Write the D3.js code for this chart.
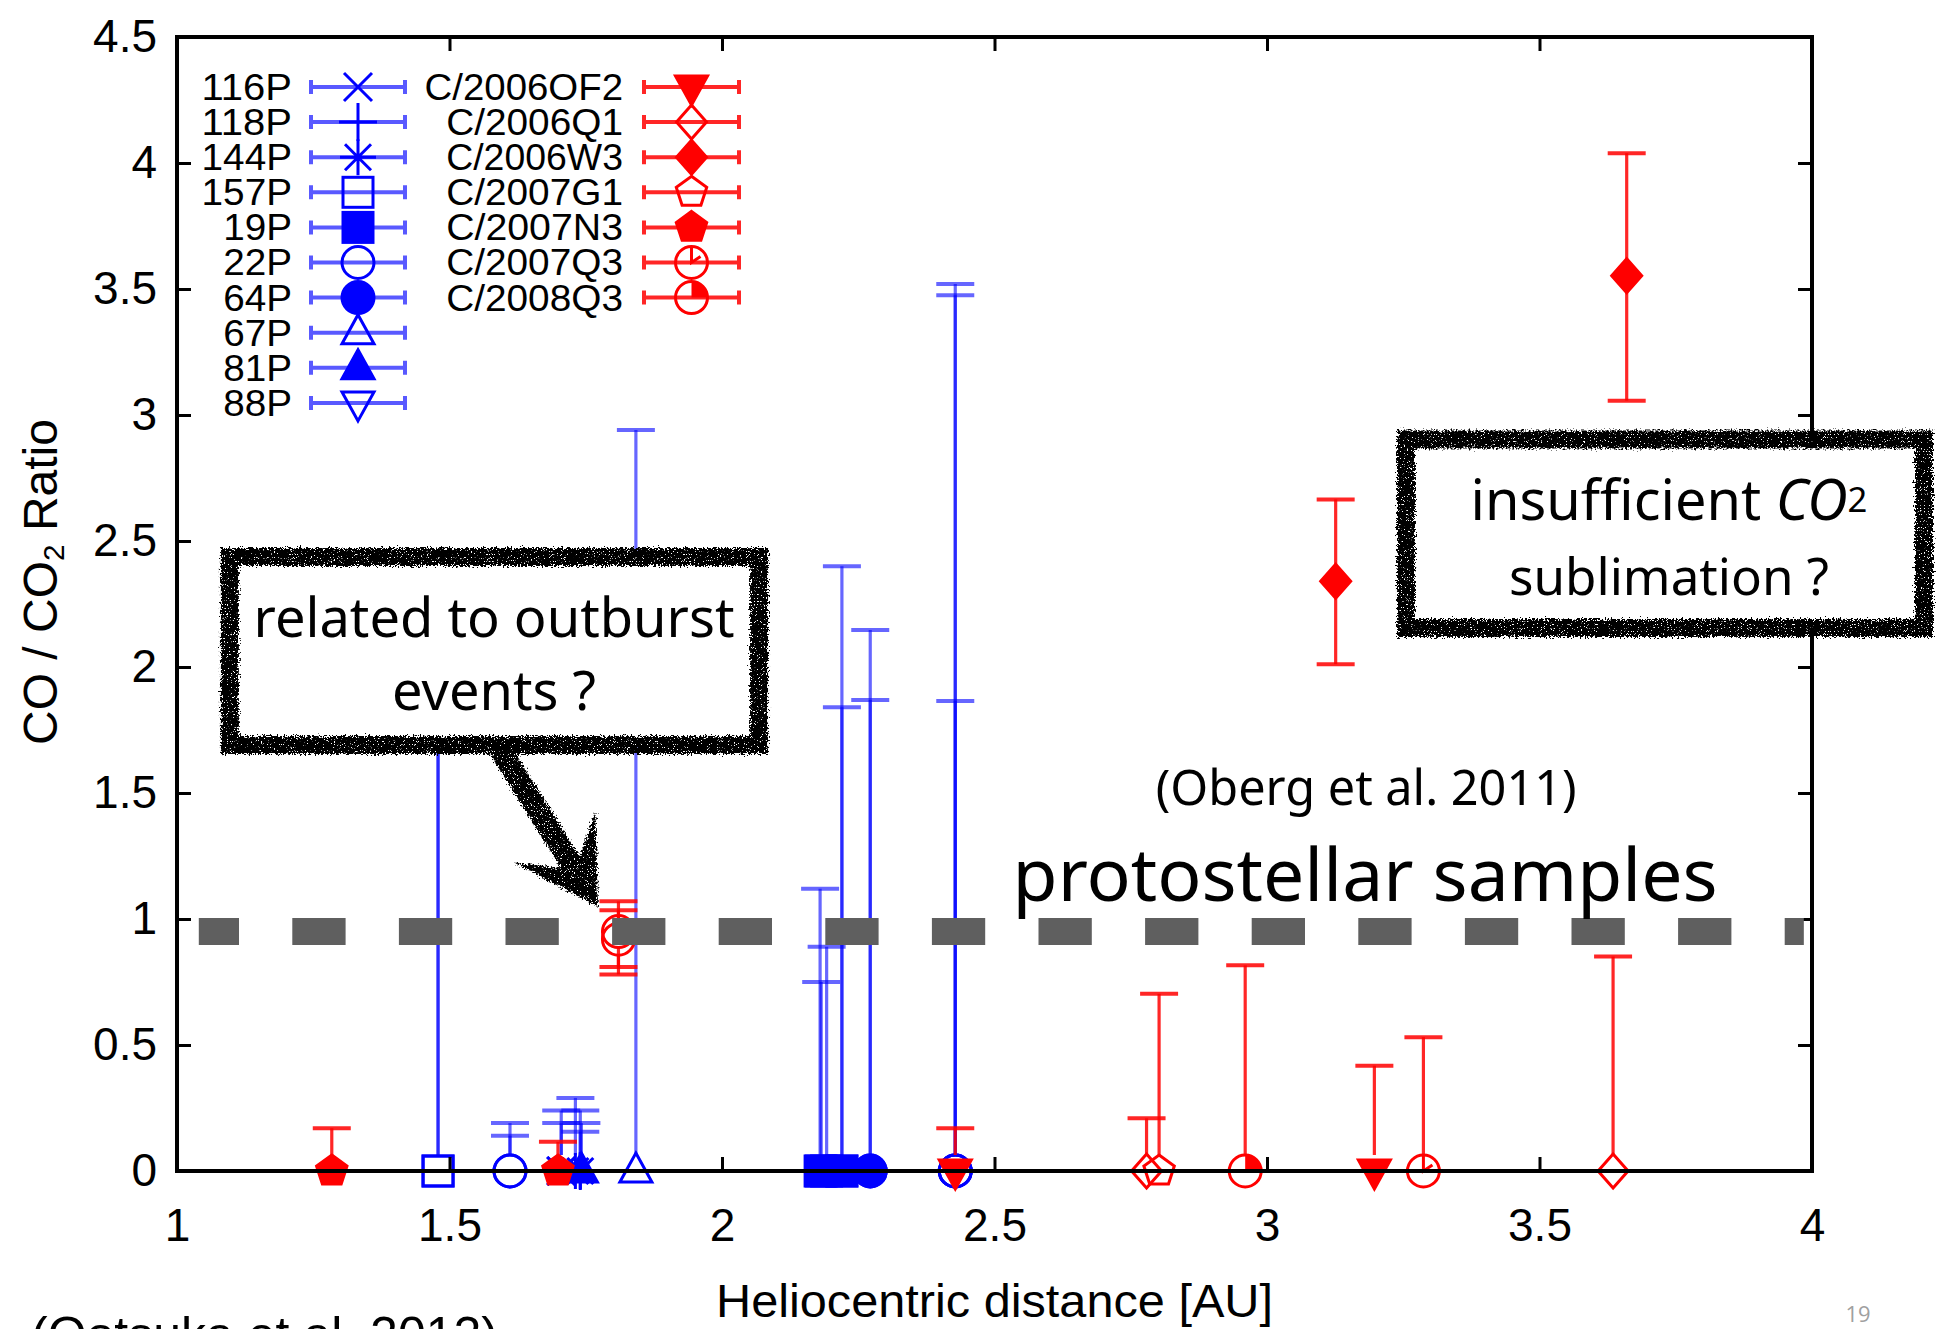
<!DOCTYPE html>
<html>
<head>
<meta charset="utf-8">
<title>CO / CO2 ratio vs heliocentric distance</title>
<script src="https://cdn.jsdelivr.net/npm/d3@7/dist/d3.min.js"></script>
<style>
  html, body { margin: 0; padding: 0; background: #ffffff; }
  svg { display: block; }
</style>
</head>
<body>
<svg id="chart" width="1943" height="1329"></svg>
<script>
// ---------------------------------------------------------------------
// Data
// ---------------------------------------------------------------------
// Comets in legend order: short-period comets, then long-period comets
const blueComets = ["116P", "118P", "144P", "157P", "19P", "22P", "64P", "67P", "81P", "88P"];
const redComets = ["C/2006OF2", "C/2006Q1", "C/2006W3", "C/2007G1", "C/2007N3", "C/2007Q3", "C/2008Q3"];

// gnuplot-style point types used for each comet
const blueSymbols = ["cross", "plus", "star", "square", "squareFilled", "circle", "circleFilled", "triangle", "triangleFilled", "triangleDown"];
const redSymbols = ["triangleDownFilled", "diamond", "diamondFilled", "pentagon", "pentagonFilled", "circleTick", "circleQuarter"];

// One entry per observation: comet, heliocentric distance [AU],
// CO/CO2 ratio, and the lower / upper end of its error bar.
const obsComet = [
  "116P", "116P", "118P", "144P", "144P", "157P", "157P",
  "19P", "19P", "19P", "19P", "19P",
  "22P", "22P", "22P", "22P", "22P",
  "64P", "64P", "67P", "81P",
  "C/2006OF2", "C/2006OF2", "C/2006Q1", "C/2006Q1", "C/2006W3", "C/2006W3",
  "C/2007G1", "C/2007N3", "C/2007N3", "C/2007Q3", "C/2007Q3", "C/2007Q3", "C/2008Q3"
];
const obsDistance = [
  1.705, 1.705, 1.740, 1.731, 1.740, 1.479, 1.479,
  2.180, 2.182, 2.192, 2.220, 2.220,
  1.611, 1.611, 2.428, 2.428, 2.428,
  2.272, 2.272, 1.842, 1.742,
  2.428, 3.197, 2.779, 3.635, 3.126, 3.660,
  2.802, 1.284, 1.699, 1.810, 1.810, 3.287, 2.960
];
const obsRatio = [
  0, 0, 0, 0, 0, 0, 0,
  0, 0, 0, 0, 0,
  0, 0, 0, 0, 0,
  0, 0, 0, 0,
  0, 0, 0, 0, 2.34, 3.553,
  0, 0, 0, 0.95, 0.92, 0, 0
];
const obsLow = [
  0, 0, 0, 0, 0, 0, 0,
  0, 0, 0, 0, 0,
  0, 0, 0, 0, 0,
  0, 0, 0, 0,
  0, 0, 0, 0, 2.011, 3.057,
  0, 0, 0, 0.81, 0.78, 0, 0
];
const obsHigh = [
  0.24, 0.19, 0.24, 0.29, 0.156, 2.30, 2.00,
  1.12, 0.75, 0.89, 2.40, 1.84,
  0.19, 0.14, 3.52, 3.475, 1.865,
  2.147, 1.869, 2.94, 0.19,
  0.17, 0.418, 0.209, 0.851, 2.665, 4.039,
  0.703, 0.17, 0.116, 1.07, 1.035, 0.531, 0.816
];

const xTickValues = [1, 1.5, 2, 2.5, 3, 3.5, 4];
const yTickValues = [0, 0.5, 1, 1.5, 2, 2.5, 3, 3.5, 4, 4.5];

// CO/CO2 ratio of protostellar ices (Oberg et al. 2011)
const protostellarRatio = 0.95;

// ---------------------------------------------------------------------
// Layout
// ---------------------------------------------------------------------
const svg = d3.select("#chart");
const plot = { left: 177, right: 1812, top: 37, bottom: 1171 };
const x = d3.scaleLinear().domain([1, 4]).range([plot.left, plot.right]);
const y = d3.scaleLinear().domain([0, 4.5]).range([plot.bottom, plot.top]);

const BLUE = "#0000ff", RED = "#ff0000";
const AXIS_FONT = "'Liberation Sans', Arial, Helvetica, sans-serif";
const NOTE_FONT = "'Noto Sans', 'Open Sans', sans-serif";

const symbolOf = new Map(), colorOf = new Map();
blueComets.forEach((c, i) => { symbolOf.set(c, blueSymbols[i]); colorOf.set(c, BLUE); });
redComets.forEach((c, i) => { symbolOf.set(c, redSymbols[i]); colorOf.set(c, RED); });

const observations = obsComet.map((c, i) => ({
  comet: c, d: obsDistance[i], v: obsRatio[i], lo: obsLow[i], hi: obsHigh[i]
}));

// Rough, grainy outline used for the hand-drawn callouts
const defs = svg.append("defs");
const rough = defs.append("filter").attr("id", "rough")
  .attr("x", "-10%").attr("y", "-10%").attr("width", "120%").attr("height", "120%");
rough.append("feTurbulence").attr("type", "fractalNoise").attr("baseFrequency", 0.55)
  .attr("numOctaves", 2).attr("seed", 4).attr("result", "n1");
rough.append("feDisplacementMap").attr("in", "SourceGraphic").attr("in2", "n1")
  .attr("scale", 9).attr("xChannelSelector", "R").attr("yChannelSelector", "G").attr("result", "disp");
rough.append("feTurbulence").attr("type", "fractalNoise").attr("baseFrequency", 1.3)
  .attr("numOctaves", 1).attr("seed", 11).attr("result", "n2");
rough.append("feColorMatrix").attr("in", "n2").attr("type", "matrix")
  .attr("values", "0 0 0 0 0  0 0 0 0 0  0 0 0 0 0  0 0 0 -16 11.2").attr("result", "speck");
rough.append("feComposite").attr("in", "disp").attr("in2", "speck").attr("operator", "in");

// ---------------------------------------------------------------------
// Point symbols
// ---------------------------------------------------------------------
function drawMarker(g, type, cx, cy, color) {
  const t = g.append("g").attr("transform", `translate(${cx},${cy})`);
  const filled = type.endsWith("Filled");
  const base = type.replace("Filled", "");
  const fill = filled ? color : "none";
  const sw = 3;
  const path = d => t.append("path").attr("d", d).attr("fill", "none")
    .attr("stroke", color).attr("stroke-width", sw);
  const poly = pts => t.append("polygon").attr("points", pts.map(p => p.join(",")).join(" "))
    .attr("fill", fill).attr("stroke", color).attr("stroke-width", sw);
  switch (base) {
    case "cross": path("M-14,-14L14,14M-14,14L14,-14"); break;
    case "plus": path("M0,-19L0,19M-19,0L19,0"); break;
    case "star": path("M-13,-13L13,13M-13,13L13,-13M0,-18L0,18M-18,0L18,0"); break;
    case "square":
      t.append("rect").attr("x", -15).attr("y", -15).attr("width", 30).attr("height", 30)
        .attr("fill", fill).attr("stroke", color).attr("stroke-width", sw);
      break;
    case "circle":
      t.append("circle").attr("r", 16).attr("fill", fill).attr("stroke", color).attr("stroke-width", sw);
      break;
    case "triangle": poly([[0, -18], [16, 11], [-16, 11]]); break;
    case "triangleDown": poly([[0, 18], [16, -11], [-16, -11]]); break;
    case "diamond": poly([[0, -17], [15, 0], [0, 17], [-15, 0]]); break;
    case "pentagon": {
      const pts = d3.range(5).map(k => {
        const a = (-90 + k * 72) * Math.PI / 180;
        return [16 * Math.cos(a), 16 * Math.sin(a)];
      });
      poly(pts);
      break;
    }
    case "circleTick":
      t.append("circle").attr("r", 16).attr("fill", "none").attr("stroke", color).attr("stroke-width", sw);
      path("M0,-16L0,0L9,-6");
      break;
    case "circleQuarter":
      t.append("circle").attr("r", 16).attr("fill", "none").attr("stroke", color).attr("stroke-width", sw);
      t.append("path").attr("d", "M0,0L0,-16A16,16 0 0 1 16,0Z").attr("fill", color);
      break;
  }
}

// ---------------------------------------------------------------------
// Data layer: error bars and points, drawn comet by comet
// ---------------------------------------------------------------------
const dataLayer = svg.append("g").attr("class", "data");
const GAP = 16, CAP = 19;

[...blueComets, ...redComets].forEach(comet => {
  const color = colorOf.get(comet);
  const op = color === BLUE ? 0.6 : 0.85;
  const pts = observations.filter(o => o.comet === comet);
  const g = dataLayer.append("g");
  pts.forEach(o => {
    const cx = x(o.d), cy = y(o.v), yh = y(o.hi), yl = y(o.lo);
    const seg = (y1, y2) => g.append("line").attr("x1", cx).attr("x2", cx)
      .attr("y1", y1).attr("y2", y2).attr("stroke", color)
      .attr("stroke-opacity", op).attr("stroke-width", 3.2);
    const cap = yy => g.append("line").attr("x1", cx - CAP).attr("x2", cx + CAP)
      .attr("y1", yy).attr("y2", yy).attr("stroke", color)
      .attr("stroke-opacity", op).attr("stroke-width", 4);
    if (cy - GAP > yh) seg(cy - GAP, yh);
    cap(yh);
    if (o.lo < o.v) {
      if (yl > cy + GAP) seg(cy + GAP, yl);
      cap(yl);
    }
  });
  pts.forEach(o => drawMarker(g, symbolOf.get(comet), x(o.d), y(o.v), color));
});

// ---------------------------------------------------------------------
// Frame and axes (ticks point inwards on all four sides)
// ---------------------------------------------------------------------
const axes = svg.append("g").attr("class", "axes");
function styleAxis(g) {
  g.select(".domain").remove();
  g.selectAll(".tick line").attr("stroke", "#000").attr("stroke-width", 3);
  g.selectAll(".tick text").attr("font-family", AXIS_FONT).attr("font-size", 46).attr("fill", "#000");
}
axes.append("g").attr("transform", `translate(0,${plot.bottom})`)
  .call(d3.axisBottom(x).tickValues(xTickValues).tickFormat(d3.format("")).tickSize(-14).tickPadding(37))
  .call(styleAxis);
axes.append("g").attr("transform", `translate(0,${plot.top})`)
  .call(d3.axisTop(x).tickValues(xTickValues).tickFormat("").tickSize(-14))
  .call(styleAxis);
axes.append("g").attr("transform", `translate(${plot.left},0)`)
  .call(d3.axisLeft(y).tickValues(yTickValues).tickFormat(d3.format("")).tickSize(-14).tickPadding(20))
  .call(styleAxis);
axes.append("g").attr("transform", `translate(${plot.right},0)`)
  .call(d3.axisRight(y).tickValues(yTickValues).tickFormat("").tickSize(-14))
  .call(styleAxis);
axes.append("rect")
  .attr("x", plot.left).attr("y", plot.top)
  .attr("width", plot.right - plot.left).attr("height", plot.bottom - plot.top)
  .attr("fill", "none").attr("stroke", "#000").attr("stroke-width", 4);

// Axis titles
axes.append("text")
  .attr("x", (plot.left + plot.right) / 2).attr("y", 1317)
  .attr("text-anchor", "middle").attr("font-family", AXIS_FONT).attr("font-size", 46)
  .attr("textLength", 557).attr("lengthAdjust", "spacingAndGlyphs")
  .text("Heliocentric distance [AU]");

const yTitle = axes.append("text")
  .attr("transform", "translate(57,582) rotate(-90)")
  .attr("text-anchor", "middle").attr("font-family", AXIS_FONT).attr("font-size", 48);
yTitle.append("tspan").text("CO / CO");
yTitle.append("tspan").attr("font-size", "0.62em").attr("dy", 7).text("2");
yTitle.append("tspan").attr("dy", -7).text(" Ratio");

// ---------------------------------------------------------------------
// Legend
// ---------------------------------------------------------------------
const legend = svg.append("g").attr("class", "legend");
const ROW0 = 87, ROW = 35.1;
function legendColumn(comets, labelRight, lineX0, lineX1) {
  comets.forEach((c, i) => {
    const cy = ROW0 + i * ROW;
    const color = colorOf.get(c);
    const op = color === BLUE ? 0.65 : 0.85;
    legend.append("text").attr("x", labelRight).attr("y", cy).attr("dy", "0.36em")
      .attr("text-anchor", "end").attr("font-family", AXIS_FONT).attr("font-size", 36)
      .attr("textLength", c.length * 0.6 * 36 + 4).attr("lengthAdjust", "spacingAndGlyphs")
      .text(c);
    legend.append("path")
      .attr("d", `M${lineX0},${cy}L${lineX1},${cy}M${lineX0},${cy - 7}L${lineX0},${cy + 7}M${lineX1},${cy - 7}L${lineX1},${cy + 7}`)
      .attr("stroke", color).attr("stroke-opacity", op).attr("stroke-width", 4).attr("fill", "none");
    drawMarker(legend, symbolOf.get(c), (lineX0 + lineX1) / 2, cy, color);
  });
}
legendColumn(blueComets, 292, 311, 405);
legendColumn(redComets, 623, 644, 739);

// ---------------------------------------------------------------------
// Annotations
// ---------------------------------------------------------------------
const notes = svg.append("g").attr("class", "notes");

function fitText(sel, target) {
  const w = sel.node().getComputedTextLength();
  const fs = parseFloat(sel.attr("font-size"));
  sel.attr("font-size", fs * target / w);
  return sel;
}

// Protostellar reference level
notes.append("line")
  .attr("x1", x(1.04)).attr("x2", x(3.985))
  .attr("y1", y(protostellarRatio)).attr("y2", y(protostellarRatio))
  .attr("stroke", "#5f5f5f").attr("stroke-width", 27)
  .attr("stroke-dasharray", "53.3 53.3").attr("stroke-dashoffset", 13.1);

fitText(notes.append("text").attr("x", x(3.182)).attr("y", y(1.4524))
  .attr("text-anchor", "middle").attr("font-family", NOTE_FONT).attr("font-size", 44)
  .text("(Oberg et al. 2011)"), 421);

fitText(notes.append("text").attr("x", x(3.18)).attr("y", y(1.0714))
  .attr("text-anchor", "middle").attr("font-family", NOTE_FONT).attr("font-size", 72)
  .text("protostellar samples"), 705);

// Arrow from the outburst callout to the C/2007Q3 points
const arrowFrom = [1.585, 1.70], arrowTo = [1.7725, 1.049];
(function drawArrow() {
  const a0 = [x(arrowFrom[0]), y(arrowFrom[1])], a1 = [x(arrowTo[0]), y(arrowTo[1])];
  const dx = a1[0] - a0[0], dy = a1[1] - a0[1], L = Math.hypot(dx, dy);
  const ux = dx / L, uy = dy / L, nx = -uy, ny = ux;
  const at = (along, side) => [a1[0] - ux * along + nx * side, a1[1] - uy * along + ny * side];
  const hw = 11;
  const pts = [
    [a0[0] + nx * hw, a0[1] + ny * hw], at(52, hw), at(82, 48), [a1[0], a1[1]],
    at(82, -48), at(52, -hw), [a0[0] - nx * hw, a0[1] - ny * hw]
  ];
  notes.append("polygon").attr("points", pts.map(p => p.join(",")).join(" "))
    .attr("fill", "#000").attr("filter", "url(#rough)");
})();

function callout(box, lines) {
  const g = notes.append("g");
  const x0 = x(box[0]), x1 = x(box[1]), y0 = y(box[3]), y1 = y(box[2]);
  g.append("rect").attr("x", x0).attr("y", y0).attr("width", x1 - x0).attr("height", y1 - y0)
    .attr("fill", "#fff");
  g.append("rect").attr("x", x0).attr("y", y0).attr("width", x1 - x0).attr("height", y1 - y0)
    .attr("fill", "none").attr("stroke", "#000").attr("stroke-width", 18)
    .attr("filter", "url(#rough)");
  lines.forEach(l => {
    const t = g.append("text").attr("x", x(l.cx)).attr("y", y(l.base))
      .attr("text-anchor", "middle").attr("font-family", NOTE_FONT).attr("font-size", 50);
    l.parts.forEach(p => {
      const s = t.append("tspan").text(p.text);
      if (p.italic) s.attr("font-style", "italic");
      if (p.small) s.attr("font-size", "0.62em").attr("dy", -8);
    });
    fitText(t, l.width);
  });
}

callout([1.097, 2.068, 1.6905, 2.4365], [
  { cx: 1.5817, base: 2.119, width: 481, parts: [{ text: "related to outburst" }] },
  { cx: 1.5817, base: 1.829, width: 204, parts: [{ text: "events ?" }] }
]);

callout([3.255, 4.2055, 2.1548, 2.9028], [
  { cx: 3.7376, base: 2.5833, width: 397,
    parts: [{ text: "insufficient " }, { text: "CO", italic: true }, { text: "2", small: true }] },
  { cx: 3.7376, base: 2.2857, width: 320, parts: [{ text: "sublimation ?" }] }
]);

// Source and page number
svg.append("text").attr("x", 31).attr("y", 1352)
  .attr("font-family", AXIS_FONT).attr("font-size", 50)
  .attr("textLength", 467).attr("lengthAdjust", "spacingAndGlyphs")
  .text("(Ootsuka et al. 2012)");
svg.append("text").attr("x", 1858).attr("y", 1322).attr("text-anchor", "middle")
  .attr("font-family", "'Open Sans', 'Noto Sans', sans-serif").attr("font-size", 22)
  .attr("fill", "#a0a0a0").text("19");
</script>
</body>
</html>
